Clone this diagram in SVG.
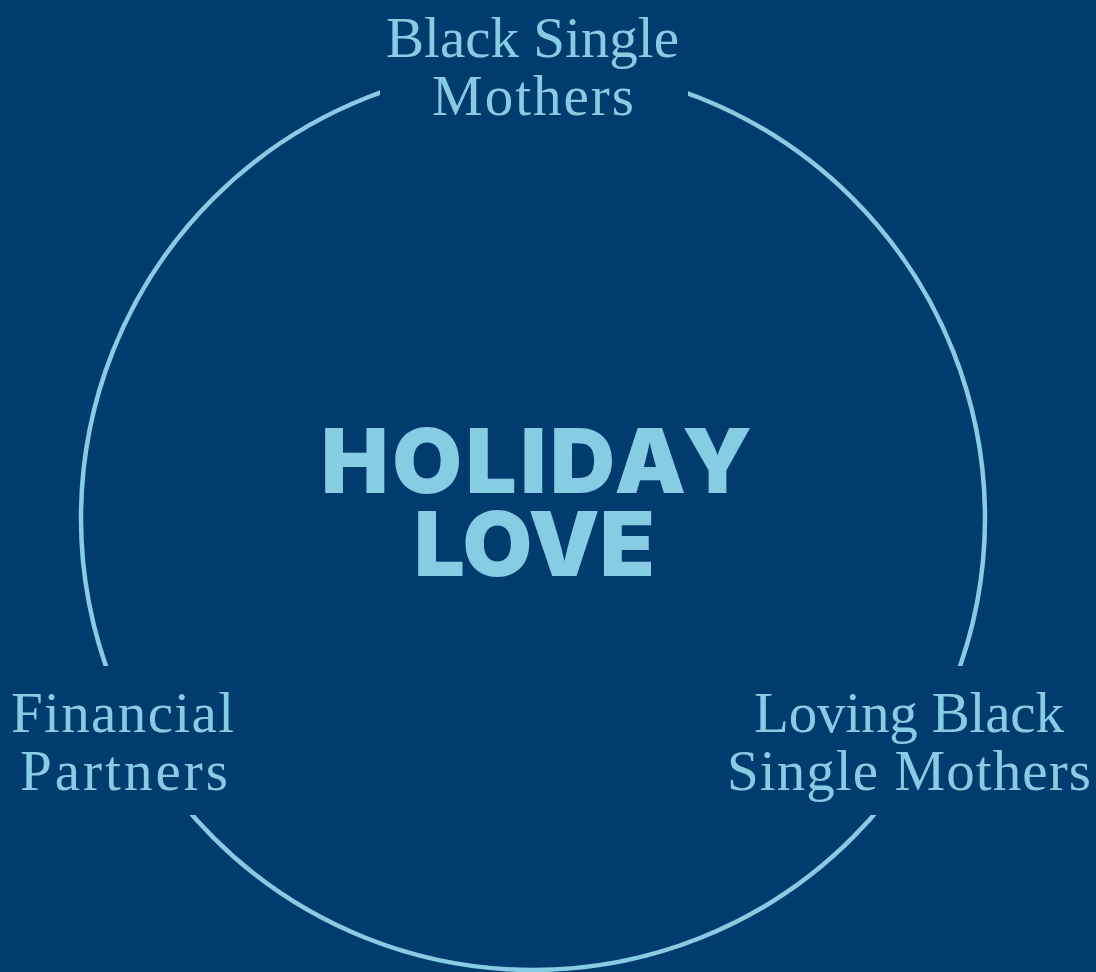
<svg xmlns="http://www.w3.org/2000/svg" width="1096" height="972" viewBox="0 0 1096 972">
<style>
.bg{fill:#023c6f}
.ring{fill:none;stroke:#86cde4;stroke-width:4.5}
.lbl{font-family:"Liberation Serif","DejaVu Serif",serif;font-size:57px;fill:#86cde4;text-anchor:middle}
.title{font-family:Inter,"Liberation Sans",sans-serif;font-weight:900;font-size:90px;fill:#86cde4;text-anchor:middle}
</style>
<rect class="bg" x="0" y="0" width="1096" height="972"/>
<g id="connectors">
<circle class="ring" cx="533" cy="518" r="452"/>
</g>
<g id="node-top">
<rect class="bg" x="380" y="30" width="308" height="110"/>
<text class="lbl" x="532.5" y="57" textLength="293" lengthAdjust="spacing">Black Single</text>
<text class="lbl" x="533" y="115" textLength="202" lengthAdjust="spacing">Mothers</text>
</g>
<g id="node-left">
<rect class="bg" x="0" y="666" width="260" height="149"/>
<text class="lbl" x="122.5" y="732" textLength="223" lengthAdjust="spacing">Financial</text>
<text class="lbl" x="124" y="790" textLength="208" lengthAdjust="spacing">Partners</text>
</g>
<g id="node-right">
<rect class="bg" x="700" y="666" width="396" height="149"/>
<text class="lbl" x="909" y="732" textLength="310" lengthAdjust="spacing">Loving Black</text>
<text class="lbl" x="909" y="790" textLength="364" lengthAdjust="spacing">Single Mothers</text>
</g>
<g id="node-center">
<text class="title" x="536.5" y="493" textLength="431" lengthAdjust="spacing">HOLIDAY</text>
<text class="title" x="534.5" y="576" textLength="241" lengthAdjust="spacing">LOVE</text>
</g>
</svg>
